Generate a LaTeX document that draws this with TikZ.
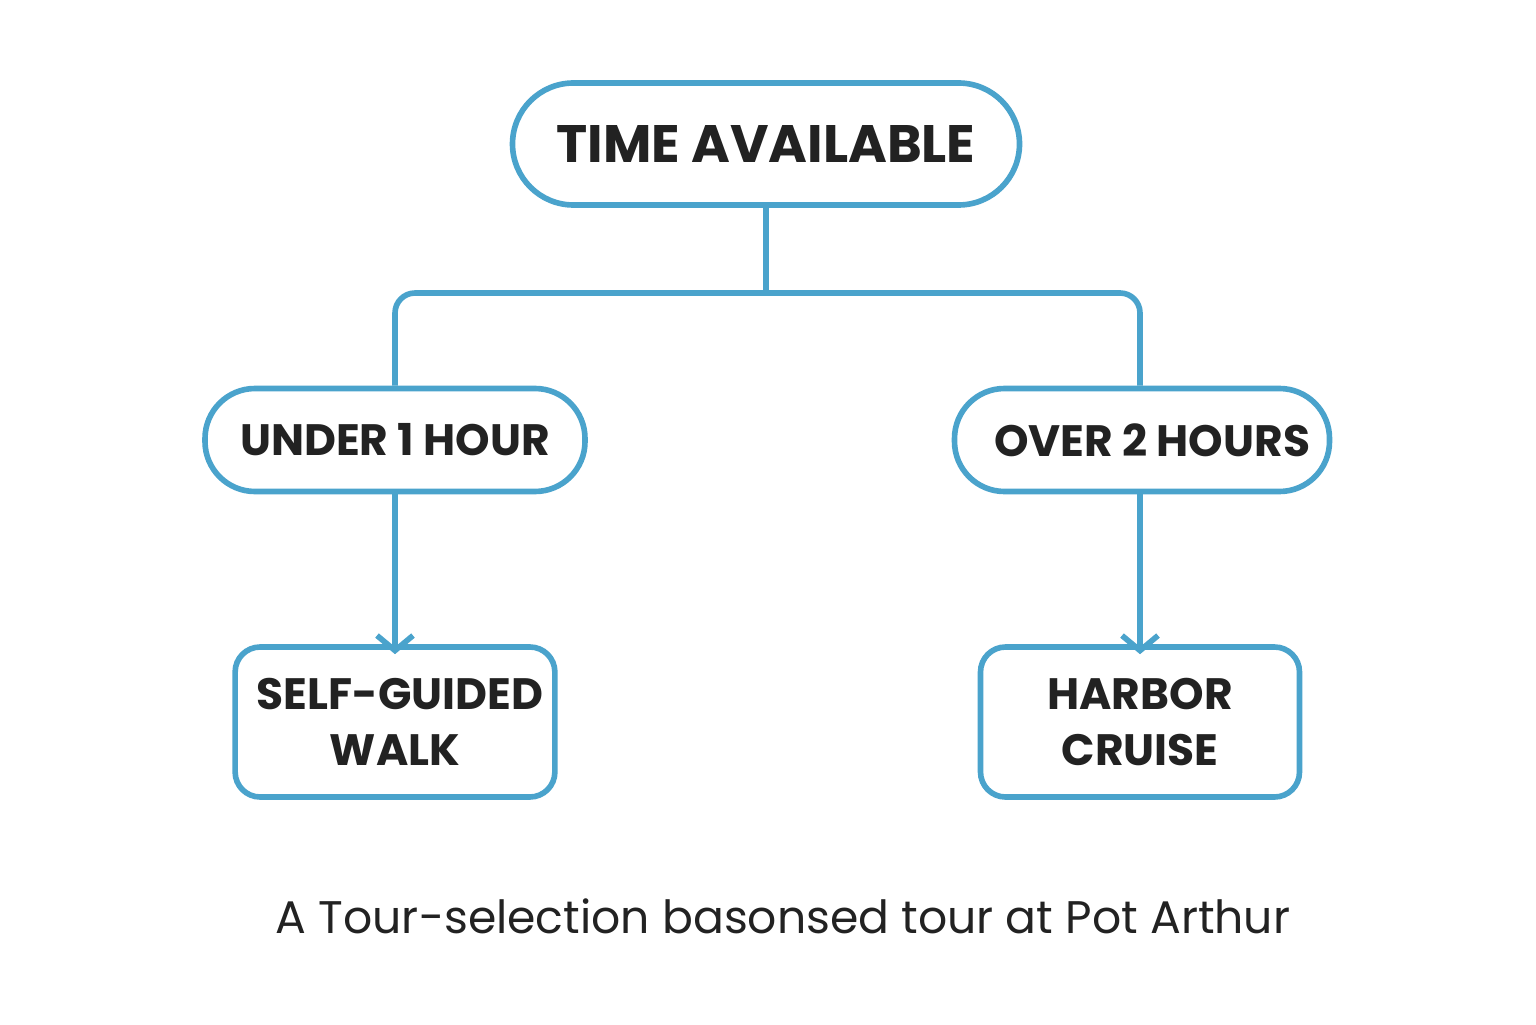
\documentclass[tikz,border=0pt]{standalone}
\usepackage{fontspec}
\setmainfont{Poppins}
\usetikzlibrary{arrows.meta}
\definecolor{lineblue}{HTML}{4AA3CC}
\definecolor{ink}{HTML}{222222}
\tikzset{
  pill/.style={draw=lineblue,line width=1.6pt,rounded corners=0.5cm,text=ink,font=\bfseries},
  leaf/.style={draw=lineblue,line width=1.6pt,rounded corners=0.25cm,text=ink,font=\bfseries\fontsize{12.5}{16}\selectfont,align=center,minimum width=3.19cm,minimum height=1.5cm},
  link/.style={draw=lineblue,line width=1.6pt,rounded corners=0.2cm}
}
\begin{document}
\begin{tikzpicture}
\useasboundingbox[fill=white] (0,0) rectangle (15.36,10.24);

\node[pill,rounded corners=0.61cm,minimum width=5.07cm,minimum height=1.22cm,font=\bfseries\fontsize{15}{18}\selectfont] (time) at (7.66,8.80) {TIME AVAILABLE};
\node[pill,minimum width=3.80cm,minimum height=1.03cm,font=\bfseries\fontsize{12.5}{15}\selectfont] (under) at (3.95,5.84) {UNDER 1 HOUR};
\node[pill,minimum width=3.75cm,minimum height=1.03cm,font=\bfseries\fontsize{12.5}{15}\selectfont] (over) at (11.42,5.84) {\hspace{0.2cm}OVER 2 HOURS};
\node[leaf] (walk) at (3.95,3.02) {\hspace{0.1cm}SELF-GUIDED\\WALK};
\node[leaf] (cruise) at (11.40,3.02) {HARBOR\\CRUISE};

% branches
\coordinate (split) at (7.66,7.31);
\draw[link] (time.south) -- (split);
\draw[link] (split) -| (under.north);
\draw[link] (split) -| (over.north -| cruise.north);

% choices
\draw[draw=lineblue,line width=1.6pt,-{Straight Barb[length=0.15cm,width=0.36cm]}] (under.south) -- ([yshift=-0.1cm]walk.north);
\draw[draw=lineblue,line width=1.6pt,-{Straight Barb[length=0.15cm,width=0.36cm]}] (over.south -| cruise.north) -- ([yshift=-0.1cm]cruise.north);

\node[text=ink,font=\fontsize{13}{16}\selectfont] (caption) at (7.83,1.08) {A Tour-selection basonsed tour at Pot Arthur};
\end{tikzpicture}
\end{document}
